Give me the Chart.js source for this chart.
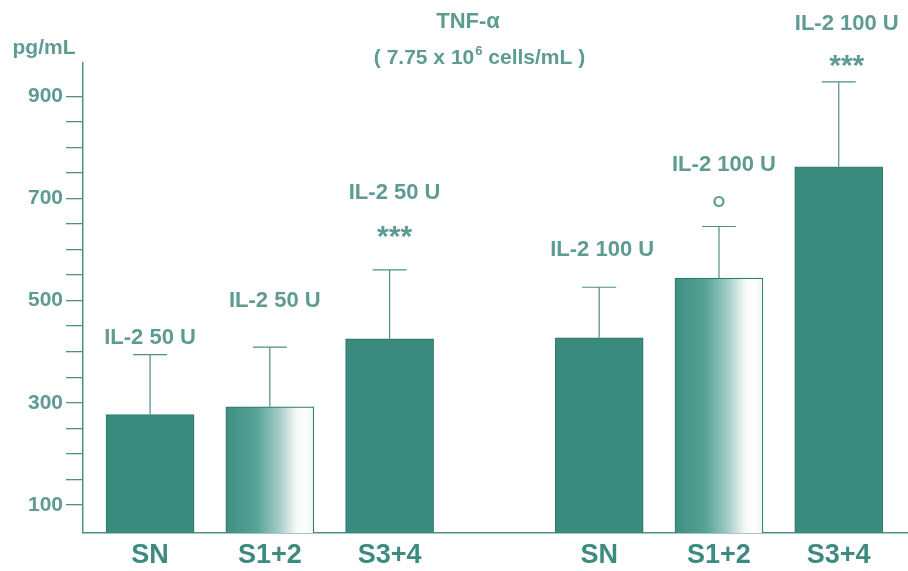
<!DOCTYPE html>
<html>
<head>
<meta charset="utf-8">
<script src="https://cdn.jsdelivr.net/npm/chart.js@4.4.1/dist/chart.umd.min.js"></script>
<style>
  html, body { margin: 0; padding: 0; background: #fff; }
  #wrap { position: relative; width: 908px; height: 571px; }
</style>
</head>
<body>
<div id="wrap"><canvas id="tnfChart" width="908" height="571"></canvas></div>
<script>
// categories and their slot on the x axis (gap between the two IL-2 doses)
const groups = ['SN', 'S1+2', 'S3+4', 'SN', 'S1+2', 'S3+4'];
const slots = [1, 2, 3, 4.75, 5.75, 6.75];

// TNF-alpha, pg/mL (mean and error)
const means = [277, 292, 425, 427, 544, 762];
const errors = [117, 117, 135, 99, 101, 166];

// text over each bar
const doses = ['IL-2 50 U', 'IL-2 50 U', 'IL-2 50 U', 'IL-2 100 U', 'IL-2 100 U', 'IL-2 100 U'];
const signif = ['', '', '***', '', 'o', '***'];

// y axis ticks (labels every 200)
const yTicks = [100, 150, 200, 250, 300, 350, 400, 450, 500, 550, 600, 650, 700, 750, 800, 850, 900];
const yLabels = [100, 300, 500, 700, 900];

const TEAL = '#3a8b7e';
const LINE = '#4f8f86';
const TEXT = '#5e9b92';
const FONT = '"Liberation Sans", Arial, sans-serif';
const BAR_W = 88;

// S1+2 bars are shaded from teal to white
const shadedBars = [1, 4];

// offsets (px above the error cap) for the annotation text
const doseOffset = [17, 46, 77, 37, 62, 58];
const markOffset = [0, 0, 38, 0, 25, 21];
const textShift = [0, 5, 5, 3, 5, 8];

function barFill(c) {
  if (!shadedBars.includes(c.dataIndex)) return TEAL;
  const xs = c.chart.scales.x;
  if (!xs) return TEAL;
  const left = xs.getPixelForValue(slots[c.dataIndex]) - BAR_W / 2;
  const g = c.chart.ctx.createLinearGradient(left, 0, left + BAR_W, 0);
  g.addColorStop(0, '#3f8f82');
  g.addColorStop(0.35, '#58a296');
  g.addColorStop(0.6, '#a3ccc4');
  g.addColorStop(0.8, '#f4f9f8');
  g.addColorStop(0.9, '#ffffff');
  g.addColorStop(1, '#eef4f3');
  return g;
}

const errorBars = {
  id: 'errorBars',
  afterDatasetsDraw(chart) {
    const ctx = chart.ctx;
    const y = chart.scales.y;
    const meta = chart.getDatasetMeta(0);
    ctx.save();
    meta.data.forEach((bar, i) => {
      const top = y.getPixelForValue(means[i] + errors[i]);
      ctx.strokeStyle = LINE;
      ctx.lineWidth = 1.2;
      ctx.beginPath();
      ctx.moveTo(bar.x, bar.y);
      ctx.lineTo(bar.x, top);
      ctx.moveTo(bar.x - 17, top);
      ctx.lineTo(bar.x + 17, top);
      ctx.stroke();

      const tx = bar.x + textShift[i];
      ctx.fillStyle = TEXT;
      ctx.textAlign = 'center';
      ctx.textBaseline = 'middle';
      ctx.font = 'bold 22px ' + FONT;
      ctx.fillText(doses[i], tx, top - doseOffset[i]);
      if (signif[i] === '***') {
        ctx.font = 'bold 30px ' + FONT;
        ctx.fillText(signif[i], tx, top - markOffset[i] + 6);
      } else if (signif[i] === 'o') {
        ctx.beginPath();
        ctx.lineWidth = 2.2;
        ctx.strokeStyle = TEXT;
        ctx.arc(bar.x, top - markOffset[i], 4.5, 0, Math.PI * 2);
        ctx.stroke();
      }
    });
    ctx.restore();
  }
};

const titles = {
  id: 'titles',
  afterDraw(chart) {
    const ctx = chart.ctx;
    ctx.save();
    ctx.fillStyle = TEXT;
    ctx.textBaseline = 'middle';
    ctx.textAlign = 'center';
    ctx.font = 'bold 22px ' + FONT;
    ctx.fillText('TNF-\u03b1', 468, 22);
    const big = 'bold 21px ' + FONT, small = 'bold 13px ' + FONT;
    const pre = '( 7.75 x 10', sup = '6', post = ' cells/mL )';
    ctx.font = big;
    const w1 = ctx.measureText(pre).width, w3 = ctx.measureText(post).width;
    ctx.font = small;
    const w2 = ctx.measureText(sup).width;
    const x = 479 - (w1 + w2 + w3) / 2;
    ctx.textAlign = 'left';
    ctx.font = big;
    ctx.fillText(pre, x, 58);
    ctx.font = small;
    ctx.fillText(sup, x + w1 + 1, 51);
    ctx.font = big;
    ctx.fillText(post, x + w1 + w2 + 1, 58);
    ctx.textAlign = 'center';
    ctx.font = 'bold 21px ' + FONT;
    ctx.fillText('pg/mL', 44, 48);
    ctx.restore();
  }
};

new Chart(document.getElementById('tnfChart'), {
  type: 'bar',
  data: {
    datasets: [{
      data: slots.map((s, i) => ({ x: s, y: means[i] })),
      backgroundColor: barFill,
      borderColor: '#2f7b6f',
      borderWidth: 1.2,
      borderSkipped: 'bottom',
      barThickness: BAR_W
    }]
  },
  options: {
    responsive: false,
    animation: false,
    events: [],
    layout: { padding: { top: 63, right: 1, left: 0, bottom: 0 } },
    plugins: { legend: { display: false }, tooltip: { enabled: false } },
    scales: {
      x: {
        type: 'linear',
        offset: false,
        min: 0.44,
        max: 7.32,
        afterBuildTicks: s => { s.ticks = slots.map(v => ({ value: v })); },
        afterFit: s => { s.height = 38; },
        grid: { display: false, drawTicks: false },
        border: { display: true, color: LINE, width: 1.5 },
        ticks: {
          autoSkip: false,
          maxRotation: 0,
          padding: 6,
          color: '#3d8a80',
          font: { family: FONT, size: 27, weight: 'bold' },
          callback: (v, i) => groups[i]
        }
      },
      y: {
        min: 45,
        max: 965,
        afterBuildTicks: s => { s.ticks = yTicks.map(v => ({ value: v })); },
        afterFit: s => { s.width = 83; },
        grid: { drawOnChartArea: false, drawTicks: true, tickLength: 17, color: LINE, lineWidth: 1.3 },
        border: { display: true, color: LINE, width: 1.5 },
        ticks: {
          autoSkip: false,
          padding: 3,
          color: TEXT,
          font: { family: FONT, size: 21, weight: 'bold' },
          callback: v => yLabels.includes(v) ? v : ''
        }
      }
    }
  },
  plugins: [errorBars, titles]
});
</script>
</body>
</html>
